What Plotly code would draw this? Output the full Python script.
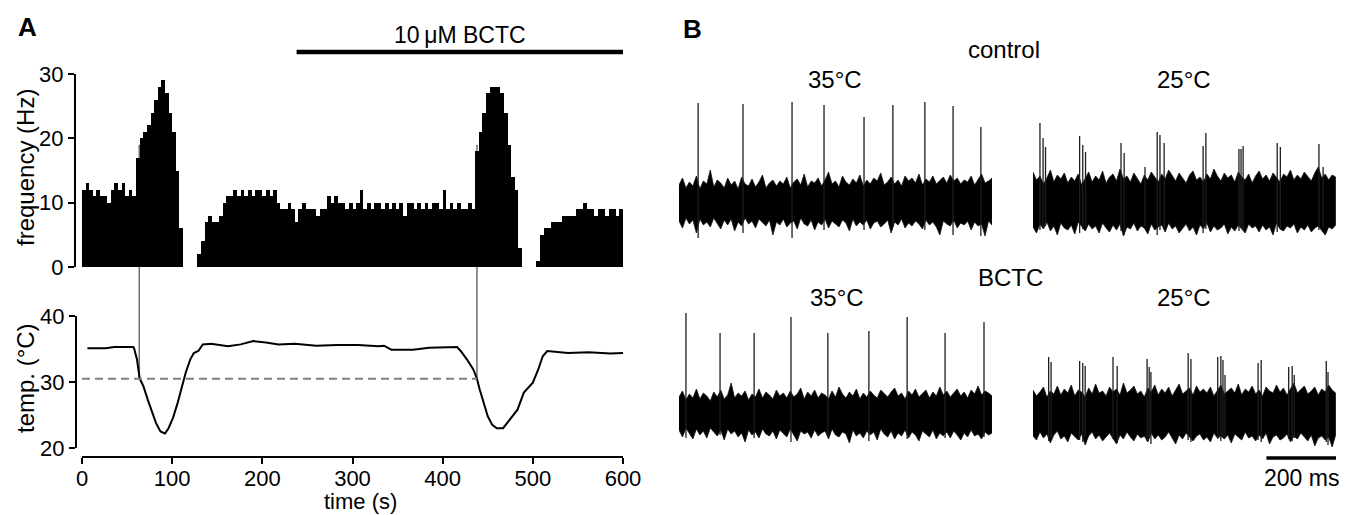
import plotly.graph_objects as go

W, H = 1346, 515
FONT = "Liberation Sans, Arial, Helvetica, sans-serif"

# ---------------- Panel A data ----------------
# firing frequency histogram, 4 s bins (bin centres 2..598 s)
freq_bin_width = 4
freq_hz = [
    12, 13, 12, 11, 12, 11, 11, 10, 12, 13,
    12, 13, 11, 12, 11, 17, 20, 21, 22, 24,
    26, 28, 29, 27, 24, 21, 15, 6, 0, 0,
    0, 0, 2, 4, 7, 8, 7, 7, 8, 10,
    11, 11, 12, 11, 12, 11, 12, 11, 12, 12,
    11, 12, 11, 12, 10, 9, 9, 10, 9, 7,
    9, 10, 9, 9, 9, 8, 9, 9, 11, 10,
    11, 10, 10, 9, 10, 9, 10, 12, 9, 10,
    9, 10, 10, 9, 10, 9, 10, 9, 10, 8,
    10, 10, 9, 10, 9, 10, 9, 10, 10, 9,
    12, 9, 10, 9, 10, 9, 9, 10, 9, 18,
    21, 24, 27, 28, 28, 28, 27, 24, 19, 14,
    12, 3, 0, 0, 0, 0, 1, 5, 6, 6,
    7, 7, 7, 8, 8, 8, 8, 9, 9, 10,
    9, 9, 8, 9, 9, 8, 9, 9, 8, 9,
]
freq_t = [freq_bin_width * i + freq_bin_width / 2 for i in range(len(freq_hz))]

temp_t = [6, 26, 36, 57, 58, 61, 64, 68, 73, 78, 82, 87, 92, 96, 101, 106, 110, 115, 120, 124,
          129, 134, 143, 162, 176, 190, 204, 218, 236, 260, 283, 306, 329, 335, 343, 367, 385,
          416, 420, 427, 434, 438, 441, 446, 450, 455, 460, 467, 474, 483, 490, 500, 506, 511,
          516, 539, 562, 586, 600]
temp_c = [35.1, 35.1, 35.3, 35.3, 35.0, 33.4, 30.5, 29.4, 27.3, 25.3, 23.8, 22.5, 22.2, 23.0,
          24.6, 26.8, 28.9, 31.4, 33.4, 34.4, 34.7, 35.7, 35.8, 35.4, 35.7, 36.2, 36.0, 35.7,
          35.8, 35.5, 35.6, 35.6, 35.4, 35.5, 34.9, 34.9, 35.2, 35.3, 34.7, 33.4, 31.9, 30.5,
          28.9, 26.8, 24.8, 23.5, 23.0, 23.0, 24.3, 25.8, 28.4, 29.9, 31.9, 33.9, 34.7, 34.4,
          34.5, 34.3, 34.4]

threshold_temp = 30.5
cross_times = [63.5, 438]      # temperature threshold crossings
cross_freq = [19, 19]          # frequency reached at the crossings
bctc_start, bctc_end = 238, 600

# ---------------- Panel B data ----------------
left_dur, right_dur = 900, 871     # ms shown per column
noise_step = 10                    # ms between envelope samples

tl_up = [15, 22, 12, 18, 14, 24, 11, 19, 16, 30,
         13, 20, 17, 12, 22, 15, 19, 11, 23, 16,
         14, 21, 13, 18, 25, 12, 17, 20, 14, 19,
         16, 23, 12, 18, 21, 15, 26, 13, 19, 17,
         22, 14, 20, 28, 16, 19, 13, 24, 18, 15,
         21, 17, 25, 14, 20, 16, 22, 19, 27, 15,
         18, 23, 16, 20, 14, 24, 19, 22, 17, 26,
         15, 21, 18, 24, 16, 20, 23, 17, 25, 19,
         22, 16, 20, 18, 24, 15, 21, 26, 17, 19,
         22]
tl_lo = [-21, -28, -18, -24, -20, -33, -19, -25, -22, -27,
         -18, -23, -29, -20, -25, -19, -31, -22, -26, -18,
         -24, -21, -28, -19, -23, -26, -20, -35, -22, -25,
         -19, -27, -23, -21, -29, -18, -24, -26, -20, -30,
         -22, -25, -19, -28, -21, -24, -27, -20, -23, -31,
         -19, -26, -22, -25, -20, -29, -23, -21, -27, -24,
         -20, -33, -22, -25, -19, -28, -23, -26, -21, -24,
         -29, -20, -25, -22, -27, -35, -21, -24, -26, -20,
         -28, -23, -25, -21, -30, -22, -26, -24, -36, -21,
         -25]
tr_up = [28, 20, 24, 16, 22, 30, 18, 25, 21, 27,
         17, 23, 19, 26, 15, 22, 28, 18, 24, 20,
         29, 17, 23, 26, 19, 31, 21, 24, 18, 27,
         22, 16, 25, 20, 28, 23, 18, 26, 21, 30,
         24, 19, 27, 22, 17, 25, 29, 20, 23, 18,
         26, 21, 31, 24, 19, 27, 22, 25, 18, 28,
         23, 20, 26, 17, 24, 29, 21, 25, 19, 27,
         22, 18, 26, 23, 30, 20, 25, 21, 28, 24,
         19, 27, 33, 22, 26, 20, 25, 23]
tr_lo = [-27, -33, -24, -29, -22, -31, -26, -35, -23, -28,
         -30, -25, -34, -22, -27, -31, -24, -29, -26, -33,
         -23, -28, -32, -25, -30, -24, -36, -27, -29, -23,
         -31, -26, -28, -34, -24, -30, -27, -25, -32, -23,
         -29, -26, -33, -28, -24, -31, -27, -35, -25, -29,
         -23, -32, -26, -30, -28, -24, -34, -27, -31, -25,
         -29, -33, -24, -28, -26, -32, -25, -30, -27, -35,
         -23, -29, -31, -26, -28, -24, -33, -27, -30, -25,
         -32, -28, -26, -30, -35, -27, -29, -25]
bl_up = [14, 20, 11, 17, 13, 22, 12, 18, 15, 10,
         19, 14, 21, 12, 16, 28, 13, 18, 15, 20,
         11, 17, 14, 22, 13, 19, 16, 12, 21, 15,
         18, 13, 20, 14, 17, 23, 12, 19, 15, 21,
         13, 18, 16, 12, 20, 14, 24, 17, 13, 19,
         15, 22, 12, 18, 14, 20, 16, 13, 21, 17,
         14, 19, 23, 15, 18, 12, 20, 16, 22, 14,
         17, 21, 13, 19, 15, 24, 16, 20, 14, 18,
         22, 15, 19, 13, 21, 17, 25, 16, 20, 18,
         15]
bl_lo = [-19, -26, -17, -22, -28, -18, -24, -20, -27, -17,
         -21, -25, -19, -29, -18, -23, -20, -26, -22, -31,
         -19, -24, -21, -27, -18, -23, -25, -20, -28, -19,
         -22, -26, -18, -24, -30, -20, -23, -21, -27, -19,
         -25, -22, -20, -28, -18, -24, -26, -21, -23, -32,
         -19, -25, -22, -27, -20, -24, -21, -29, -18, -23,
         -26, -20, -28, -22, -25, -19, -27, -21, -24, -30,
         -20, -23, -26, -19, -28, -22, -25, -21, -27, -20,
         -24, -29, -22, -26, -19, -25, -23, -28, -21, -24,
         -22]
br_up = [21, 15, 19, 24, 14, 20, 17, 25, 16, 22,
         18, 26, 15, 21, 19, 14, 23, 17, 27, 18,
         20, 15, 24, 19, 22, 16, 28, 18, 21, 25,
         17, 20, 14, 23, 19, 26, 16, 22, 18, 24,
         15, 21, 27, 17, 20, 23, 16, 25, 19, 22,
         18, 24, 15, 21, 26, 17, 20, 23, 18, 27,
         16, 22, 19, 25, 17, 21, 15, 24, 20, 18,
         26, 19, 23, 16, 22, 28, 18, 21, 25, 17,
         20, 24, 16, 22, 19, 26, 21, 18]
br_lo = [-25, -29, -21, -27, -23, -32, -24, -20, -28, -25,
         -31, -22, -26, -29, -23, -34, -25, -21, -28, -24,
         -30, -26, -22, -27, -33, -24, -28, -21, -26, -30,
         -23, -27, -25, -31, -22, -28, -24, -29, -26, -21,
         -27, -33, -24, -28, -22, -26, -30, -25, -23, -29,
         -26, -31, -22, -27, -25, -28, -24, -32, -23, -26,
         -29, -21, -27, -25, -30, -24, -28, -22, -33, -26,
         -24, -29, -27, -23, -31, -25, -28, -22, -26, -30,
         -24, -35, -27, -25, -29, -26, -36, -24]

tl_spk_t = [55, 184, 325, 417, 532, 615, 707, 788, 868]
tl_spk_up = [97, 96, 98, 95, 83, 95, 98, 94, 73]
tl_spk_dn = [-38, -33, -38, -30, -30, -27, -30, -35, -36]

tr_spk_t = [20, 29, 36, 134, 143, 151, 253, 262, 322, 357, 365, 377, 489, 497, 592, 598, 604, 702,
            711, 822, 834]
tr_spk_up = [77, 62, 53, 64, 55, 48, 57, 47, 33, 68, 65, 57, 54, 67, 51, 51, 54, 57, 53, 56, 33]
tr_spk_dn = [-30, -28, -26, -33, -29, -27, -31, -35, -26, -35, -30, -28, -33, -29, -31, -28, -30,
             -32, -29, -30, -27]

bl_spk_t = [20, 118, 216, 322, 428, 546, 656, 765, 877]
bl_spk_up = [98, 78, 78, 94, 78, 80, 94, 78, 89]
bl_spk_dn = [-27, -24, -27, -31, -25, -30, -28, -27, -26]

br_spk_t = [45, 52, 134, 143, 150, 230, 242, 328, 334, 339, 446, 454, 531, 540, 546, 552, 647, 656,
            735, 745, 751, 843, 848]
br_spk_up = [54, 49, 50, 48, 45, 54, 45, 52, 44, 39, 58, 52, 54, 55, 51, 36, 48, 51, 44, 45, 36, 50, 39]
br_spk_dn = [-30, -27, -29, -31, -26, -28, -32, -30, -27, -33, -29, -31, -28, -30, -27, -26, -29,
             -31, -28, -30, -27, -31, -34]

scale_bar_ms = 200

# ---------------- layout geometry (pixels -> paper) ----------------
def px(x):
    return x / W

def py(y):
    return 1 - y / H

FREQ_DOM = [py(267), py(74)]
FREQ_RNG = [0, 30]
TEMP_DOM = [py(448), py(316)]
TEMP_RNG = [20, 40]
A_XDOM = [px(82), px(623)]
B_LDOM = [px(679), px(992)]
B_RDOM = [px(1033), px(1336)]
B_TOPDOM = [py(245), py(95)]
B_BOTDOM = [py(456), py(306)]
B_YRNG = [-45, 105]


def to_paper(v, dom, rng):
    return dom[0] + (v - rng[0]) / (rng[1] - rng[0]) * (dom[1] - dom[0])


fig = go.Figure()

# frequency histogram
fig.add_trace(go.Bar(x=freq_t, y=freq_hz, width=[freq_bin_width] * len(freq_t),
                     marker=dict(color="black", line=dict(width=0)),
                     xaxis="x", yaxis="y", showlegend=False, hoverinfo="skip"))

# temperature trace
fig.add_trace(go.Scatter(x=temp_t, y=temp_c, mode="lines",
                         line=dict(color="black", width=2),
                         xaxis="x2", yaxis="y2", showlegend=False, hoverinfo="skip"))


def add_recording(xa, ya, up, lo, st, su, sd):
    n = len(up)
    t = [i * noise_step for i in range(n)]
    fig.add_trace(go.Scatter(x=t + t[::-1], y=up + lo[::-1], mode="lines", fill="toself",
                             fillcolor="black", line=dict(color="#111111", width=0.8),
                             xaxis=xa, yaxis=ya, showlegend=False, hoverinfo="skip"))
    xs, ys = [], []
    for tt, u, d in zip(st, su, sd):
        xs += [tt, tt, None]
        ys += [d, u, None]
    fig.add_trace(go.Scatter(x=xs, y=ys, mode="lines", line=dict(color="#1e1e1e", width=1.3),
                             xaxis=xa, yaxis=ya, showlegend=False, hoverinfo="skip"))


add_recording("x3", "y3", tl_up, tl_lo, tl_spk_t, tl_spk_up, tl_spk_dn)
add_recording("x4", "y3", tr_up, tr_lo, tr_spk_t, tr_spk_up, tr_spk_dn)
add_recording("x3", "y4", bl_up, bl_lo, bl_spk_t, bl_spk_up, bl_spk_dn)
add_recording("x4", "y4", br_up, br_lo, br_spk_t, br_spk_up, br_spk_dn)

tickfont = dict(family=FONT, size=22, color="black")
axis_common = dict(showgrid=False, zeroline=False, showline=True, linecolor="black",
                   linewidth=2, ticks="outside", ticklen=6, tickwidth=2, tickcolor="black",
                   tickfont=tickfont, automargin=False)
hidden = dict(visible=False, showgrid=False, zeroline=False, automargin=False)

fig.update_layout(
    template="none",
    width=W, height=H, margin=dict(l=0, r=0, t=0, b=0, pad=0, autoexpand=False),
    paper_bgcolor="white", plot_bgcolor="white", bargap=0, showlegend=False,
    xaxis=dict(domain=A_XDOM, range=[0, 600], anchor="y", **hidden),
    yaxis=dict(domain=FREQ_DOM, range=FREQ_RNG, anchor="free", position=px(75),
               tickvals=[0, 10, 20, 30], **axis_common),
    xaxis2=dict(domain=A_XDOM, range=[0, 600], anchor="free", position=py(457),
                tickvals=[0, 100, 200, 300, 400, 500, 600], ticklabelstandoff=-4,
                **axis_common),
    yaxis2=dict(domain=TEMP_DOM, range=TEMP_RNG, anchor="free", position=px(76),
                tickvals=[20, 30, 40], **axis_common),
    xaxis3=dict(domain=B_LDOM, range=[0, left_dur], anchor="y3", **hidden),
    xaxis4=dict(domain=B_RDOM, range=[0, right_dur], anchor="y3", **hidden),
    yaxis3=dict(domain=B_TOPDOM, range=B_YRNG, anchor="x3", **hidden),
    yaxis4=dict(domain=B_BOTDOM, range=B_YRNG, anchor="x3", **hidden),
)

shapes = []
# threshold dashed line
shapes.append(dict(type="line", xref="x2", yref="y2", x0=0, x1=cross_times[1],
                   y0=threshold_temp, y1=threshold_temp,
                   line=dict(color="#7f7f7f", width=2, dash="8px,5px")))
# vertical connector lines
for ct, cf in zip(cross_times, cross_freq):
    shapes.append(dict(type="line", xref="x", yref="paper", x0=ct, x1=ct,
                       y0=to_paper(threshold_temp, TEMP_DOM, TEMP_RNG),
                       y1=to_paper(cf, FREQ_DOM, FREQ_RNG),
                       line=dict(color="#6e6e6e", width=1.5), layer="below"))
# BCTC bar
shapes.append(dict(type="line", xref="x", yref="paper", x0=bctc_start, x1=bctc_end,
                   y0=py(52), y1=py(52), line=dict(color="black", width=4.5)))
# scale bar
shapes.append(dict(type="line", xref="x4", yref="paper", x0=right_dur - scale_bar_ms,
                   x1=right_dur, y0=py(458), y1=py(458), line=dict(color="black", width=3.5)))
fig.update_layout(shapes=shapes)

ann = []


def text(x, y, s, size=24, bold=False, angle=0, xref="paper"):
    ann.append(dict(x=x, y=y, xref=xref, yref="paper", text=("<b>%s</b>" % s) if bold else s,
                    showarrow=False, xanchor="center", yanchor="middle", textangle=angle,
                    font=dict(family=FONT, size=size, color="black")))


text(px(27), py(27), "A", size=26, bold=True)
text(px(693), py(29), "B", size=26, bold=True)
text((bctc_start + bctc_end) / 2, py(35), "10\u2009\u03bcM BCTC", xref="x", size=23)
text(px(25), py(168), "frequency (Hz)", angle=-90)
text(px(25), py(378), "temp. (\u00b0C)", angle=-90)
text(px(360), py(501), "time (s)", size=22)
text(px(1004), py(50), "control")
text(px(835), py(79), "35\u00b0C")
text(px(1184), py(79), "25\u00b0C")
text(px(1010), py(277), "BCTC")
text(px(837), py(297), "35\u00b0C")
text(px(1184), py(297), "25\u00b0C")
text(right_dur - scale_bar_ms / 2, py(478), "200 ms", xref="x4", size=23)
fig.update_layout(annotations=ann)

fig.write_html(
    "out.html",
    config={"displayModeBar": False},
    post_script="document.body.style.margin='0';document.body.style.overflow='hidden';",
)
